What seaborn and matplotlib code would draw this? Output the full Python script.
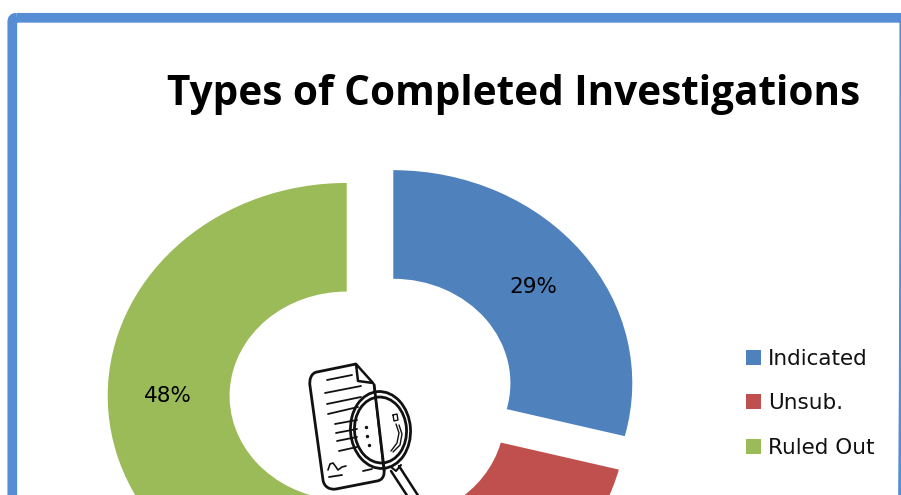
import matplotlib
matplotlib.use("Agg")
import matplotlib.pyplot as plt
import numpy as np
import seaborn as sns
from matplotlib.patches import FancyBboxPatch, Ellipse, PathPatch
from matplotlib.path import Path

categories = ["Indicated", "Unsub.", "Ruled Out"]
shares = [29, 23, 48]
colors = ["#4F81BD", "#C0504D", "#9BBB59"]
title = "Types of Completed Investigations"

sns.set_theme(style="white")
W, H = 901, 495
fig = plt.figure(figsize=(W / 100, H / 100), dpi=100, facecolor="white")

# Donut: stretched horizontally, as in the reference
ax = fig.add_axes([0, 0, 1, 1], zorder=2)
ax.patch.set_alpha(0)
CX, CY, RX, RY = 372.7, 397.4, 239.0, 213.0
wedges, _, pcts = ax.pie(
    shares, explode=[0.109] * 3, colors=colors, startangle=90, counterclock=False,
    autopct="%.0f%%", pctdistance=0.74,
    wedgeprops=dict(width=0.51, linewidth=0),
    textprops=dict(fontsize=15.5, color="black", family="DejaVu Sans"),
)
ax.set_aspect("auto")
ax.set_xlim(-CX / RX, (W - CX) / RX)
ax.set_ylim(-(H - CY) / RY, CY / RY)
ax.axis("off")
# The red slice's label lies below the cropped picture edge
pcts[1].set_visible(False)
px, py = pcts[2].get_position()
pcts[2].set_position((px - 2 / RX, py - 10 / RY))

leg = ax.legend(
    wedges, categories, frameon=False, loc="upper left",
    bbox_to_anchor=(746 / W, 1 - 349 / H), bbox_transform=fig.transFigure,
    prop=dict(family="DejaVu Sans", size=15.5), handlelength=0.70, handleheight=0.70,
    handletextpad=0.32, labelspacing=1.13, borderaxespad=0, borderpad=0,
)
for t in leg.get_texts():
    t.set_color("#111111")

# Overlay in pixel coordinates for the frame, title and icon
ov = fig.add_axes([0, 0, 1, 1], zorder=3)
ov.set_xlim(0, W)
ov.set_ylim(H, 0)
ov.axis("off")
ov.patch.set_alpha(0)

ov.add_patch(FancyBboxPatch((12.3, 17.8), 892, 600, boxstyle="round,pad=0,rounding_size=4",
                            fc="none", ec="#558ED5", lw=7, clip_on=True))
ov.text(514, 94.5, title, ha="center", va="center", fontsize=29.2, fontweight="bold",
        family="Open Sans", color="black")

# Icon
ik = dict(color="#111111", solid_capstyle="round", solid_joinstyle="round")
Mv, L3, C4 = Path.MOVETO, Path.LINETO, Path.CURVE4
doc = Path(
    [(356, 364), (317, 372), (311, 373), (309, 380), (310, 386), (323, 480), (324, 487), (330, 490),
     (336, 489), (377, 481), (383, 480), (385, 475), (384, 468), (374, 384)],
    [Mv, L3, C4, C4, C4, L3, C4, C4, C4, L3, C4, C4, C4, L3])
ov.add_patch(PathPatch(doc, fc="none", ec="#111111", lw=2.0))
ov.plot([356, 358, 373, 356], [364, 381, 383, 364], lw=1.8, **ik)
for (x0, y0, x1, y1) in [(327, 380, 352, 375), (325, 393, 361, 386), (327, 404, 361, 397),
                         (328, 414, 358, 407), (335, 424, 357, 420), (336, 433, 357, 429),
                         (337, 441, 357, 437), (339, 451, 357, 447), (329, 477, 342, 475),
                         (363, 471, 372, 469)]:
    ov.plot([x0, x1], [y0, y1], lw=1.3, **ik)
ov.plot([328, 330, 333, 336, 338, 342, 346], [470, 464, 463, 467, 470, 467, 466], lw=1.2, **ik)

for w, h, lw in [(60, 77, 2.0), (52, 66, 2.0)]:
    ov.add_patch(Ellipse((380.5, 430), w, h, angle=-4, fc="none", ec="#111111", lw=lw))
ov.plot([374, 384], [384, 473], lw=1.4, **ik)
ov.plot([399, 419], [466, 497], lw=1.8, **ik)
ov.plot([391, 408], [471, 497], lw=1.8, **ik)
ov.plot([391, 396, 401], [467, 471, 465], lw=1.5, **ik)
ov.plot([396, 399, 397, 391], [424, 433, 443, 451], lw=1.0, **ik)
ov.plot([399, 402, 400, 393], [425, 434, 445, 452], lw=1.0, **ik)
ov.plot([393, 397, 398, 394, 393], [415, 414, 420, 421, 415], lw=1.0, **ik)
ov.scatter([366, 367, 369], [427, 436, 445], s=6, color="#111111", linewidths=0)

fig.savefig("out.png", dpi=100)
